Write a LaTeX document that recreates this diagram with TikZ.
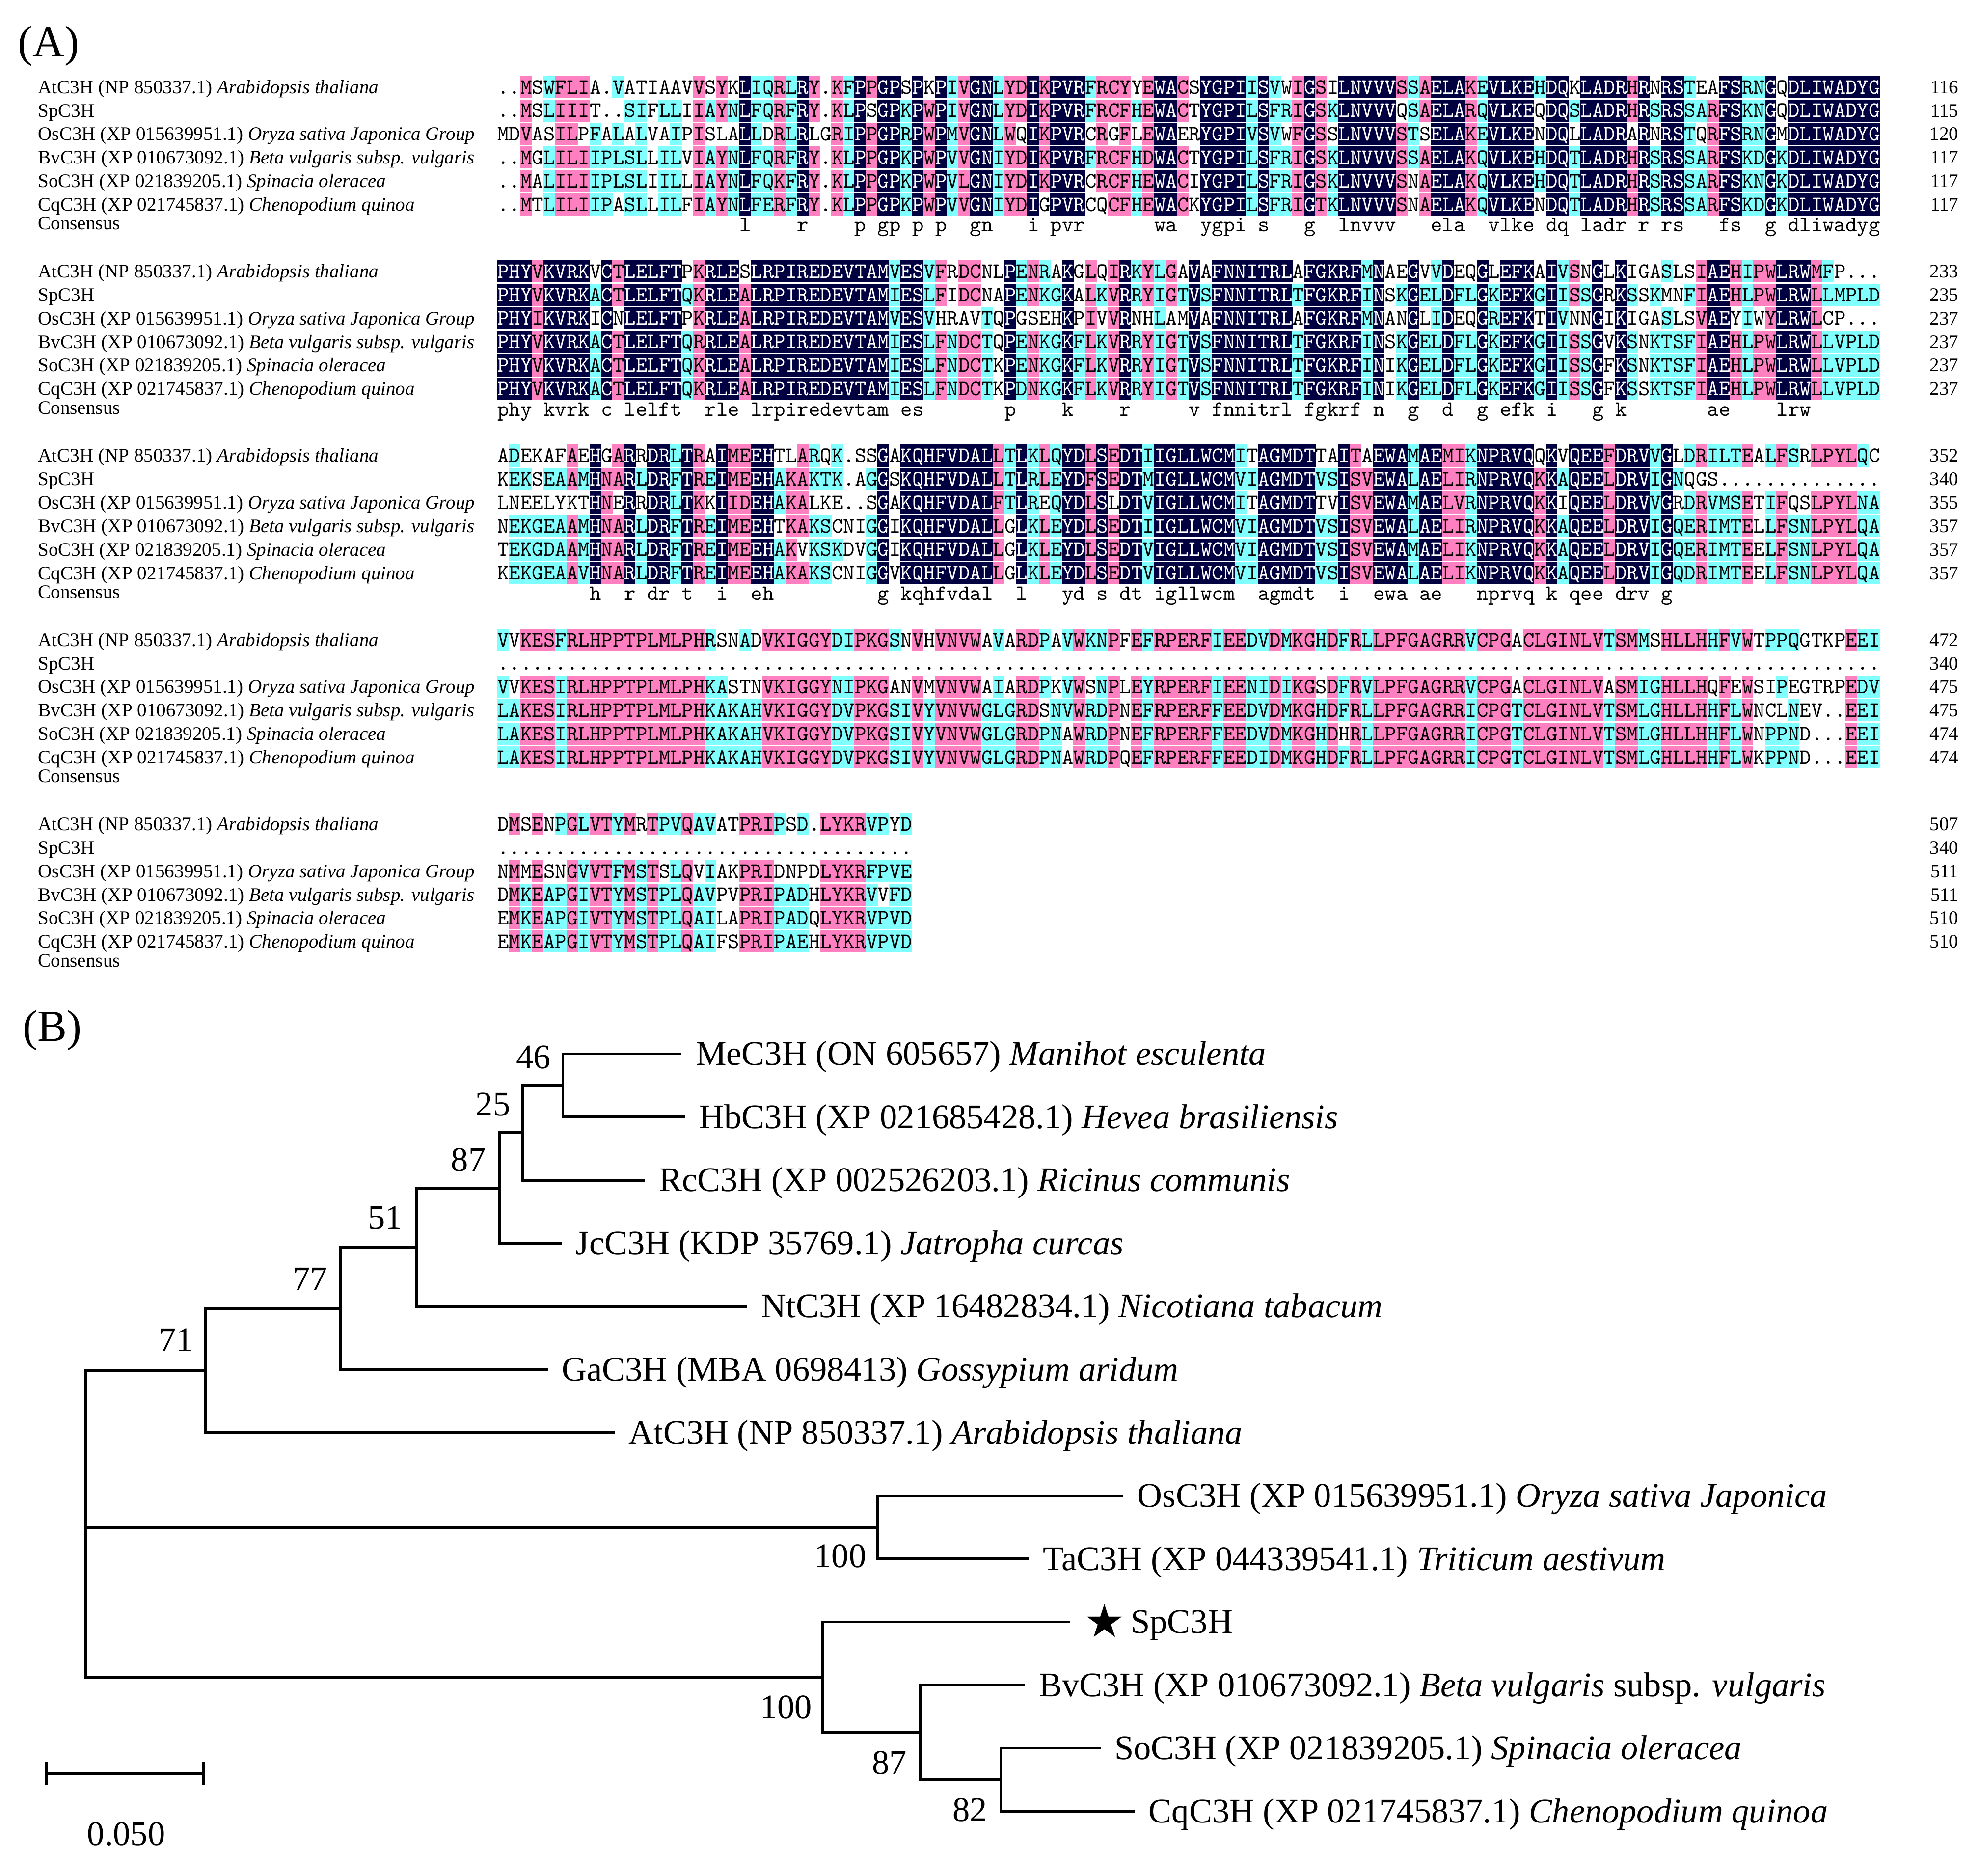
\documentclass[tikz,border=0pt]{standalone}
\usepackage{fontspec}
\setmainfont{Liberation Serif}
\newfontfamily\seqfont{lmmono10-regular}[Extension=.otf]
\newfontfamily\symfont{DejaVu Sans}
\usepackage{xcolor}
\usetikzlibrary{positioning}
\definecolor{alnnavy}{RGB}{0,0,64}
\definecolor{alnpink}{RGB}{255,128,192}
\definecolor{alncyan}{RGB}{128,255,255}
\tikzset{
  seqrow/.style={anchor=base west, inner sep=0pt, font=\seqfont\fontsize{17.39}{20}\selectfont},
  seqname/.style={anchor=base west, inner sep=0pt, font=\fontsize{15.2}{18}\selectfont},
  seqnum/.style={anchor=base east, inner sep=0pt, font=\fontsize{15.2}{18}\selectfont},
  panel/.style={anchor=base west, inner sep=0pt, font=\fontsize{35}{40}\selectfont},
  leaf/.style={anchor=west, inner xsep=11pt, inner ysep=0pt, text height=18pt, text depth=0pt, font=\fontsize{27.4}{30}\selectfont},
  boot/.style={inner sep=0pt, font=\fontsize{27.4}{30}\selectfont},
  branch/.style={line width=2.2pt}
}
\newcommand\alnbox[3]{\fill[#3] (#1,#2) rectangle ++(9.23,17.6);}
\newcommand\alnrow[3]{\node[seqrow] (#1) at (394,#2) {#3};}
\newcommand\alnblank{\kern0.525em\relax}
\ExplSyntaxOn
\seq_new:N \g_aln_groups_seq
\seq_gset_from_clist:Nn \g_aln_groups_seq { ILVMFW, FYW, KR, DE, EQ, DN, NQ, ST }
\int_new:N \l_aln_len_int
\int_new:N \l_aln_best_int
\int_new:N \l_aln_cnt_int
\tl_new:N \l_aln_best_tl
\tl_new:N \l_aln_fill_tl
\tl_new:N \l_aln_cons_tl
\tl_new:N \l_aln_in_tl
\bool_new:N \l_aln_sim_bool
\int_step_inline:nn { 6 }
  {
    \seq_new:c { l_aln_row_#1_seq }
    \tl_new:c { l_aln_txt_#1_tl }
    \tl_new:c { l_aln_ch_#1_tl }
  }
\cs_new_protected:Npn \aln_similar:nn #1#2
  {
    \bool_set_false:N \l_aln_sim_bool
    \str_if_eq:nnTF {#1} {#2}
      { \bool_set_true:N \l_aln_sim_bool }
      {
        \seq_map_inline:Nn \g_aln_groups_seq
          {
            \str_if_in:nnT {##1} {#1}
              { \str_if_in:nnT {##1} {#2} { \bool_set_true:N \l_aln_sim_bool } }
          }
      }
  }
\cs_generate_variant:Nn \aln_similar:nn { vV }
\cs_new_protected:Npn \aln_setrow:nn #1#2
  {
    \seq_clear:c { l_aln_row_#1_seq }
    \tl_set:Nn \l_aln_in_tl {#2}
    \tl_map_inline:Nn \l_aln_in_tl
      { \seq_put_right:cn { l_aln_row_#1_seq } {##1} }
  }
\cs_new_protected:Npn \aln_column:nnn #1#2#3
  {
    \int_step_inline:nn { 6 }
      { \tl_set:cx { l_aln_ch_##1_tl } { \seq_item:cn { l_aln_row_##1_seq } {#2} } }
    \int_zero:N \l_aln_best_int
    \tl_clear:N \l_aln_best_tl
    \int_step_inline:nn { 6 }
      {
        \str_if_eq:eeF { \tl_use:c { l_aln_ch_##1_tl } } { . }
          {
            \int_zero:N \l_aln_cnt_int
            \int_step_inline:nn { 6 }
              {
                \str_if_eq:eeT { \tl_use:c { l_aln_ch_##1_tl } } { \tl_use:c { l_aln_ch_####1_tl } }
                  { \int_incr:N \l_aln_cnt_int }
              }
            \int_compare:nNnT { \l_aln_cnt_int } > { \l_aln_best_int }
              {
                \int_set_eq:NN \l_aln_best_int \l_aln_cnt_int
                \tl_set_eq:Nc \l_aln_best_tl { l_aln_ch_##1_tl }
              }
          }
      }
    \tl_clear:N \l_aln_fill_tl
    \int_compare:nNnTF { \l_aln_best_int } = { 6 }
      { \tl_set:Nn \l_aln_fill_tl { alnnavy } }
      {
        \int_compare:nNnTF { \l_aln_best_int } > { 4 }
          { \tl_set:Nn \l_aln_fill_tl { alnpink } }
          {
            \int_compare:nNnT { \l_aln_best_int } > { 2 }
              { \tl_set:Nn \l_aln_fill_tl { alncyan } }
          }
      }
    \int_step_inline:nn { 6 }
      {
        \bool_set_false:N \l_aln_sim_bool
        \tl_if_empty:NF \l_aln_fill_tl
          {
            \str_if_eq:eeF { \tl_use:c { l_aln_ch_##1_tl } } { . }
              { \aln_similar:vV { l_aln_ch_##1_tl } \l_aln_best_tl }
          }
        \bool_if:NTF \l_aln_sim_bool
          {
            \use:e
              {
                \exp_not:N \alnbox
                  { \fp_eval:n { 394 + 9.13 * (#2 - 1) - 0.05 } }
                  { \fp_eval:n { #3 + 18.6 * (##1 - 1) - 8.8 } }
                  { \l_aln_fill_tl }
              }
            \int_compare:nNnTF { \l_aln_best_int } = { 6 }
              { \tl_put_right:cx { l_aln_txt_##1_tl } { \exp_not:N \textcolor {white} { \tl_use:c { l_aln_ch_##1_tl } } } }
              { \tl_put_right:cx { l_aln_txt_##1_tl } { \tl_use:c { l_aln_ch_##1_tl } } }
          }
          { \tl_put_right:cx { l_aln_txt_##1_tl } { \tl_use:c { l_aln_ch_##1_tl } } }
      }
    \int_compare:nNnTF { \l_aln_best_int } = { 6 }
      { \tl_put_right:Nx \l_aln_cons_tl { \l_aln_best_tl } }
      { \tl_put_right:Nn \l_aln_cons_tl { \alnblank } }
  }
\NewDocumentCommand \alnblock { m m m m m m m m }
  {
    \aln_setrow:nn { 1 } {#3}
    \aln_setrow:nn { 2 } {#4}
    \aln_setrow:nn { 3 } {#5}
    \aln_setrow:nn { 4 } {#6}
    \aln_setrow:nn { 5 } {#7}
    \aln_setrow:nn { 6 } {#8}
    \int_step_inline:nn { 6 } { \tl_clear:c { l_aln_txt_##1_tl } }
    \tl_clear:N \l_aln_cons_tl
    \int_set:Nn \l_aln_len_int { \seq_count:c { l_aln_row_1_seq } }
    \int_step_inline:nn { \l_aln_len_int } { \aln_column:nnn {#1} {##1} {#2} }
    \int_step_inline:nn { 6 }
      {
        \use:e
          {
            \exp_not:N \alnrow { b#1r##1 } { \fp_eval:n { #2 + 18.6 * (##1 - 1) + 5.3 } }
              { \exp_not:v { l_aln_txt_##1_tl } }
          }
      }
    \use:e
      {
        \exp_not:N \alnrow { b#1cons } { \fp_eval:n { #2 + 114.5 } }
          { \exp_not:N \lowercase { \exp_not:o { \l_aln_cons_tl } } }
      }
  }
\ExplSyntaxOff
\begin{document}
\begin{tikzpicture}[x=1pt,y=-1pt]
\useasboundingbox (0,0) rectangle (1568,1486);
\node[panel] (panA) at (14,45) {(A)};
\node[panel] (panB) at (18,825) {(B)};
\foreach \yy/\nums [count=\bi] in {69/{116,115,120,117,117,117}, 215/{233,235,237,237,237,237}, 361/{352,340,355,357,357,357}, 507/{472,340,475,475,474,474}, 653/{507,340,511,511,510,510}}{
  \foreach \lab [count=\ri] in {{AtC3H (NP 850337.1) \textit{Arabidopsis thaliana}}, {SpC3H}, {OsC3H (XP 015639951.1) \textit{Oryza sativa Japonica Group}}, {BvC3H (XP 010673092.1) \textit{Beta vulgaris subsp. vulgaris}}, {SoC3H (XP 021839205.1) \textit{Spinacia oleracea}}, {CqC3H (XP 021745837.1) \textit{Chenopodium quinoa}}}
    \node[seqname] (lab\bi r\ri) at (30,\yy+18.6*\ri-18.6+5) {\lab};
  \foreach \nm [count=\ri] in \nums
    \node[seqnum] (num\bi r\ri) at (1552,\yy+18.6*\ri-18.6+5) {\nm};
  \node[seqname] (cons\bi) at (30,\yy+113) {Consensus};
}
\alnblock{1}{69}
{..MSWFLIA. VATIAAVVSY KLIQRLRY.K FPPGPSPKPI VGNLYDIKPV RFRCYYEWAC SYGPIISVWI GSILNVVVSS AELAKEVLKE HDQKLADRHR NRSTEAFSRN GQDLIWADYG}
{..MSLIIIT. .SIFLLIIAY NLFQRFRY.K LPSGPKPWPI VGNLYDIKPV RFRCFHEWAC TYGPILSFRI GSKLNVVVQS AELARQVLKE QDQSLADRHR SRSSARFSKN GQDLIWADYG}
{MDVASILPFA LALVAIPISL ALLDRLRLGR IPPGPRPWPM VGNLWQIKPV RCRGFLEWAE RYGPIVSVWF GSSLNVVVST SELAKEVLKE NDQLLADRAR NRSTQRFSRN GMDLIWADYG}
{..MGLILIIP LSLLILVIAY NLFQRFRY.K LPPGPKPWPV VGNIYDIKPV RFRCFHDWAC TYGPILSFRI GSKLNVVVSS AELAKQVLKE HDQTLADRHR SRSSARFSKD GKDLIWADYG}
{..MALILIIP LSLIILLIAY NLFQKFRY.K LPPGPKPWPV LGNIYDIKPV RCRCFHEWAC IYGPILSFRI GSKLNVVVSN AELAKQVLKE HDQTLADRHR SRSSARFSKN GKDLIWADYG}
{..MTLILIIP ASLLILFIAY NLFERFRY.K LPPGPKPWPV VGNIYDIGPV RCQCFHEWAC KYGPILSFRI GTKLNVVVSN AELAKQVLKE NDQTLADRHR SRSSARFSKD GKDLIWADYG}
\alnblock{2}{215}
{PHYVKVRKVC TLELFTPKRL ESLRPIREDE VTAMVESVFR DCNLPENRAK GLQIRKYLGA VAFNNITRLA FGKRFMNAEG VVDEQGLEFK AIVSNGLKIG ASLSIAEHIP WLRWMFP...}
{PHYVKVRKAC TLELFTQKRL EALRPIREDE VTAMIESLFI DCNAPENKGK ALKVRRYIGT VSFNNITRLT FGKRFINSKG ELDFLGKEFK GIISSGRKSS KMNFIAEHLP WLRWLLMPLD}
{PHYIKVRKIC NLELFTPKRL EALRPIREDE VTAMVESVHR AVTQPGSEHK PIVVRNHLAM VAFNNITRLA FGKRFMNANG LIDEQGREFK TIVNNGIKIG ASLSVAEYIW YLRWLCP...}
{PHYVKVRKAC TLELFTQRRL EALRPIREDE VTAMIESLFN DCTQPENKGK FLKVRRYIGT VSFNNITRLT FGKRFINSKG ELDFLGKEFK GIISSGVKSN KTSFIAEHLP WLRWLLVPLD}
{PHYVKVRKAC TLELFTQKRL EALRPIREDE VTAMIESLFN DCTKPENKGK FLKVRRYIGT VSFNNITRLT FGKRFINIKG ELDFLGKEFK GIISSGFKSN KTSFIAEHLP WLRWLLVPLD}
{PHYVKVRKAC TLELFTQKRL EALRPIREDE VTAMIESLFN DCTKPDNKGK FLKVRRYIGT VSFNNITRLT FGKRFINIKG ELDFLGKEFK GIISSGFKSS KTSFIAEHLP WLRWLLVPLD}
\alnblock{3}{361}
{ADEKAFAEHG ARRDRLTRAI MEEHTLARQK .SSGAKQHFV DALLTLKLQY DLSEDTIIGL LWCMITAGMD TTAITAEWAM AEMIKNPRVQ QKVQEEFDRV VGLDRILTEA LFSRLPYLQC}
{KEKSEAAMHN ARLDRFTREI MEEHAKAKTK .AGGSKQHFV DALLTLRLEY DFSEDTMIGL LWCMVIAGMD TVSISVEWAL AELIRNPRVQ KKAQEELDRV IGNQGS.... ..........}
{LNEELYKTHN ERRDRLTKKI IDEHAKALKE ..SGAKQHFV DALFTLREQY DLSLDTVIGL LWCMITAGMD TTVISVEWAM AELVRNPRVQ KKIQEELDRV VGRDRVMSET IFQSLPYLNA}
{NEKGEAAMHN ARLDRFTREI MEEHTKAKSC NIGGIKQHFV DALLGLKLEY DLSEDTIIGL LWCMVIAGMD TVSISVEWAL AELIRNPRVQ KKAQEELDRV IGQERIMTEL LFSNLPYLQA}
{TEKGDAAMHN ARLDRFTREI MEEHAKVKSK DVGGIKQHFV DALLGLKLEY DLSEDTVIGL LWCMVIAGMD TVSISVEWAM AELIKNPRVQ KKAQEELDRV IGQERIMTEE LFSNLPYLQA}
{KEKGEAAVHN ARLDRFTREI MEEHAKAKSC NIGGVKQHFV DALLGLKLEY DLSEDTVIGL LWCMVIAGMD TVSISVEWAL AELIKNPRVQ KKAQEELDRV IGQDRIMTEE LFSNLPYLQA}
\alnblock{4}{507}
{VVKESFRLHP PTPLMLPHRS NADVKIGGYD IPKGSNVHVN VWAVARDPAV WKNPFEFRPE RFIEEDVDMK GHDFRLLPFG AGRRVCPGAC LGINLVTSMM SHLLHHFVWT PPQGTKPEEI}
{.......... .......... .......... .......... .......... .......... .......... .......... .......... .......... .......... ..........}
{VVKESIRLHP PTPLMLPHKA STNVKIGGYN IPKGANVMVN VWAIARDPKV WSNPLEYRPE RFIEENIDIK GSDFRVLPFG AGRRVCPGAC LGINLVASMI GHLLHQFEWS IPEGTRPEDV}
{LAKESIRLHP PTPLMLPHKA KAHVKIGGYD VPKGSIVYVN VWGLGRDSNV WRDPNEFRPE RFFEEDVDMK GHDFRLLPFG AGRRICPGTC LGINLVTSML GHLLHHFLWN CLNEV..EEI}
{LAKESIRLHP PTPLMLPHKA KAHVKIGGYD VPKGSIVYVN VWGLGRDPNA WRDPNEFRPE RFFEEDVDMK GHDHRLLPFG AGRRICPGTC LGINLVTSML GHLLHHFLWN PPND...EEI}
{LAKESIRLHP PTPLMLPHKA KAHVKIGGYD VPKGSIVYVN VWGLGRDPNA WRDPQEFRPE RFFEEDIDMK GHDFRLLPFG AGRRICPGTC LGINLVTSML GHLLHHFLWK PPND...EEI}
\alnblock{5}{653}
{DMSENPGLVT YMRTPVQAVA TPRIPSD.LY KRVPYD}
{.......... .......... .......... ......}
{NMMESNGVVT FMSTSLQVIA KPRIDNPDLY KRFPVE}
{DMKEAPGIVT YMSTPLQAVP VPRIPADHLY KRVVFD}
{EMKEAPGIVT YMSTPLQAIL APRIPADQLY KRVPVD}
{EMKEAPGIVT YMSTPLQAIF SPRIPAEHLY KRVPVD}
\coordinate (root) at (68,1210);
\coordinate (ndic) at (163,1085.8);
\coordinate (nga) at (270,1036.6);
\coordinate (nnt) at (330,988.1);
\coordinate (njc) at (396,941.25);
\coordinate (nrc) at (414,897.5);
\coordinate (nhb) at (446,860);
\coordinate (nmono) at (695,1210);
\coordinate (namar) at (652,1328.75);
\coordinate (nbv) at (729,1372.5);
\coordinate (nso) at (793,1410);
\node[leaf] (me) at (540,835) {MeC3H (ON 605657) \textit{Manihot esculenta}};
\node[leaf] (hb) at (543,885) {HbC3H (XP 021685428.1) \textit{Hevea brasiliensis}};
\node[leaf] (rc) at (511,935) {RcC3H (XP 002526203.1) \textit{Ricinus communis}};
\node[leaf] (jc) at (445,985) {JcC3H (KDP 35769.1) \textit{Jatropha curcas}};
\node[leaf] (nt) at (592,1035) {NtC3H (XP 16482834.1) \textit{Nicotiana tabacum}};
\node[leaf] (ga) at (434,1085) {GaC3H (MBA 0698413) \textit{Gossypium aridum}};
\node[leaf] (at) at (487,1135) {AtC3H (NP 850337.1) \textit{Arabidopsis thaliana}};
\node[leaf] (os) at (890,1185) {OsC3H (XP 015639951.1) \textit{Oryza sativa Japonica}};
\node[leaf] (ta) at (815,1235) {TaC3H (XP 044339541.1) \textit{Triticum aestivum}};
\node[leaf] (sp) at (848,1285) {\raisebox{-3pt}{\symfont\fontsize{36}{36}\selectfont ★}\,SpC3H};
\node[leaf] (bv) at (812,1335) {BvC3H (XP 010673092.1) \textit{Beta vulgaris} subsp. \textit{vulgaris}};
\node[leaf] (so) at (872,1385) {SoC3H (XP 021839205.1) \textit{Spinacia oleracea}};
\node[leaf] (cq) at (899,1435) {CqC3H (XP 021745837.1) \textit{Chenopodium quinoa}};
\draw[branch] (root) |- (ndic);
\draw[branch] (root) |- (nmono);
\draw[branch] (root) |- (namar);
\draw[branch] (ndic) |- (nga);
\draw[branch] (ndic) |- (at.west);
\draw[branch] (nga) |- (nnt);
\draw[branch] (nga) |- (ga.west);
\draw[branch] (nnt) |- (njc);
\draw[branch] (nnt) |- (nt.west);
\draw[branch] (njc) |- (nrc);
\draw[branch] (njc) |- (jc.west);
\draw[branch] (nrc) |- (nhb);
\draw[branch] (nrc) |- (rc.west);
\draw[branch] (nhb) |- (me.west);
\draw[branch] (nhb) |- (hb.west);
\draw[branch] (nmono) |- (os.west);
\draw[branch] (nmono) |- (ta.west);
\draw[branch] (namar) |- (sp.west);
\draw[branch] (namar) |- (nbv);
\draw[branch] (nbv) |- (bv.west);
\draw[branch] (nbv) |- (nso);
\draw[branch] (nso) |- (so.west);
\draw[branch] (nso) |- (cq.west);
\node[boot, above left=13pt and 9.5pt of nhb] (bs46) {46};
\node[boot, above left=13pt and 9.5pt of nrc] (bs25) {25};
\node[boot, above left=13pt and 11pt of njc] (bs87a) {87};
\node[boot, above left=14pt and 11pt of nnt] (bs51) {51};
\node[boot, above left=14pt and 10.5pt of nga] (bs77) {77};
\node[boot, above left=15pt and 9.5pt of ndic] (bs71) {71};
\node[boot, below left=13.5pt and 8.5pt of nmono] (bs100a) {100};
\node[boot, below left=14.5pt and 8.5pt of namar] (bs100b) {100};
\node[boot, below left=14.5pt and 10.5pt of nbv] (bs87b) {87};
\node[boot, below left=14.5pt and 10.5pt of nso] (bs82) {82};
\coordinate (sbl) at (37,1405);
\coordinate (sbr) at (161,1405);
\coordinate (sbla) at (37,1396);
\coordinate (sblb) at (37,1414);
\coordinate (sbra) at (161,1396);
\coordinate (sbrb) at (161,1414);
\draw[branch] (sbl) -- (sbr) (sbla) -- (sblb) (sbra) -- (sbrb);
\node[boot] (sblabel) at (100,1453) {0.050};
\end{tikzpicture}
\end{document}
